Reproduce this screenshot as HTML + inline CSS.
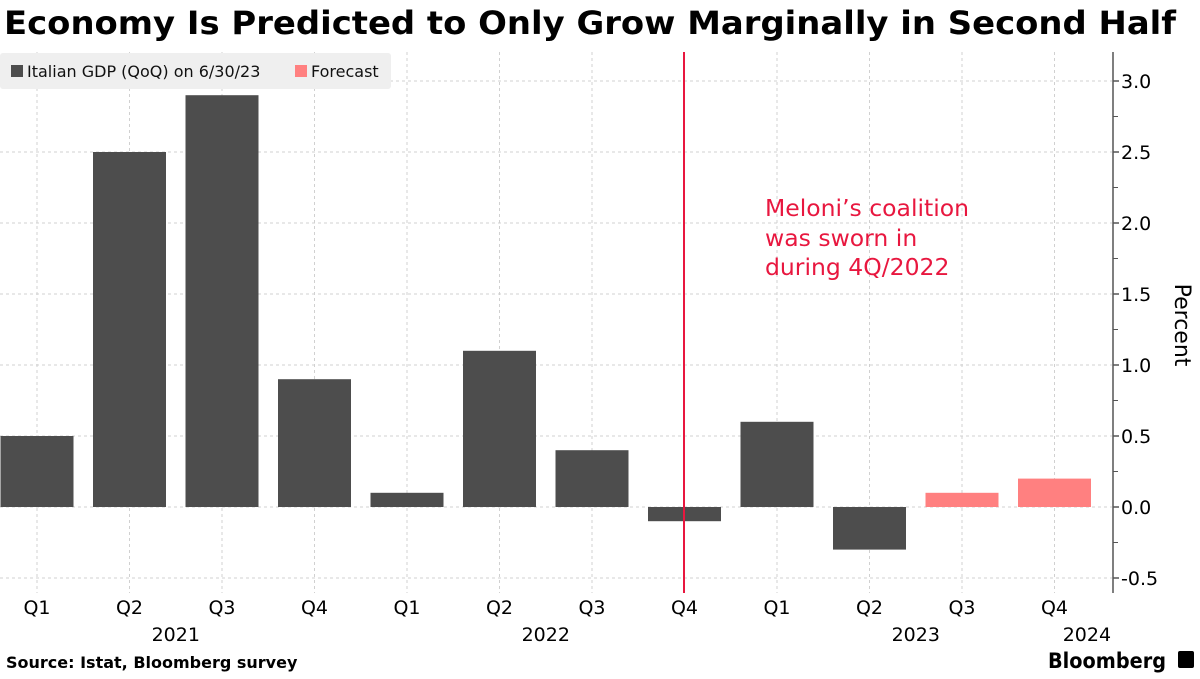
<!DOCTYPE html>
<html><head><meta charset="utf-8">
<style>
body{margin:0;background:#fff;font-family:"DejaVu Sans","Liberation Sans",sans-serif;}
svg text{font-family:"DejaVu Sans","Liberation Sans",sans-serif;}
</style></head>
<body>
<svg id="chart" width="1200" height="675" xmlns="http://www.w3.org/2000/svg">
<text x="4" y="34" font-size="32" font-weight="bold" fill="#000" textLength="1172" lengthAdjust="spacingAndGlyphs">Economy Is Predicted to Only Grow Marginally in Second Half</text>
<g id="grid"></g>
<g id="bars"></g>
<line x1="684" y1="52" x2="684" y2="593" stroke="#e8173f" stroke-width="2"/>
<text font-size="23.5" fill="#e8173f"><tspan x="765" y="216">Meloni’s coalition</tspan><tspan x="765" y="246">was sworn in</tspan><tspan x="765" y="275">during 4Q/2022</tspan></text>
<g>
<rect x="0" y="53" width="391" height="36" rx="3" fill="#efefef"/>
<rect x="11" y="65" width="12" height="12" fill="#4d4d4d"/>
<text x="27" y="77" font-size="16" fill="#111">Italian GDP (QoQ) on 6/30/23</text>
<rect x="295" y="65" width="12" height="12" fill="#ff8080"/>
<text x="311" y="77" font-size="16" fill="#111">Forecast</text>
</g>
<g id="axis"></g>
<text transform="translate(1175,325) rotate(90)" text-anchor="middle" font-size="22" fill="#000">Percent</text>
<text x="6" y="668" font-size="16" font-weight="bold" fill="#000">Source: Istat, Bloomberg survey</text>
<text x="1048" y="668" font-size="21" font-weight="bold" fill="#000" textLength="118" lengthAdjust="spacingAndGlyphs">Bloomberg</text>
<rect x="1178" y="651" width="16" height="17" rx="2" fill="#000"/>
</svg>
<script>
const categories=["Q1","Q2","Q3","Q4","Q1","Q2","Q3","Q4","Q1","Q2","Q3","Q4"];
const gdpValues=[0.5,2.5,2.9,0.9,0.1,1.1,0.4,-0.1,0.6,-0.3,null,null];
const forecastValues=[null,null,null,null,null,null,null,null,null,null,0.1,0.2];
const yearLabels=["2021","2022","2023","2024"];
const yearPos=[1.5,5.5,9.5,11.35];
const yTicks=[-0.5,0,0.5,1.0,1.5,2.0,2.5,3.0];
const NS="http://www.w3.org/2000/svg";
function yS(v){return 507-v*142;}
function xS(i){return 37+i*92.5;}
const bw=73;
function mk(tag,attrs,parent){const e=document.createElementNS(NS,tag);for(const k in attrs)e.setAttribute(k,attrs[k]);parent.appendChild(e);return e;}
const grid=document.getElementById('grid'),bars=document.getElementById('bars'),axis=document.getElementById('axis');
yTicks.forEach(t=>{
  const l=mk('line',{x1:0,x2:1112,y1:yS(t),y2:yS(t),stroke:'#d0d0d0','stroke-dasharray':'3,3','stroke-width':1},grid);
  
  
  mk('line',{x1:1113,x2:1119,y1:yS(t),y2:yS(t),stroke:'#555','stroke-width':1.5},axis);
  const tx=mk('text',{x:1121,y:yS(t)+7,'font-size':19,fill:'#000'},axis);
  tx.textContent=t===0?"0.0":(t<0?"-"+Math.abs(t).toFixed(1):t.toFixed(1));
  
  
});
for(let t=-0.25;t<3.2;t+=0.5){mk('line',{x1:1113,x2:1118,y1:yS(t),y2:yS(t),stroke:'#555','stroke-width':1},axis);}
categories.forEach((c,i)=>{
  const l=mk('line',{x1:xS(i),x2:xS(i),y1:52,y2:593,stroke:'#d0d0d0','stroke-dasharray':'3,3','stroke-width':1},grid);
  
  
  const tx=mk('text',{x:xS(i),y:614,'font-size':19,'text-anchor':'middle',fill:'#000'},axis);
  tx.textContent=c;
  
  
});
function drawBar(v,i,color,name){
  if(v===null)return;
  const y0=yS(0),y1=yS(v);
  const r=mk('rect',{x:xS(i)-bw/2,y:Math.min(y0,y1),width:bw,height:Math.abs(y1-y0),fill:color},bars);
  
  
}
gdpValues.forEach((v,i)=>drawBar(v,i,'#4d4d4d','gdp-bar'));
forecastValues.forEach((v,i)=>drawBar(v,i,'#ff8080','forecast-bar'));
yearLabels.forEach((y,k)=>{
  const tx=mk('text',{x:xS(yearPos[k]),y:641,'font-size':19,'text-anchor':'middle',fill:'#000'},axis);
  tx.textContent=y;
  
  
});
mk('line',{x1:1113,x2:1113,y1:52,y2:593,stroke:'#555','stroke-width':1.5},axis);
</script>
</body></html>
